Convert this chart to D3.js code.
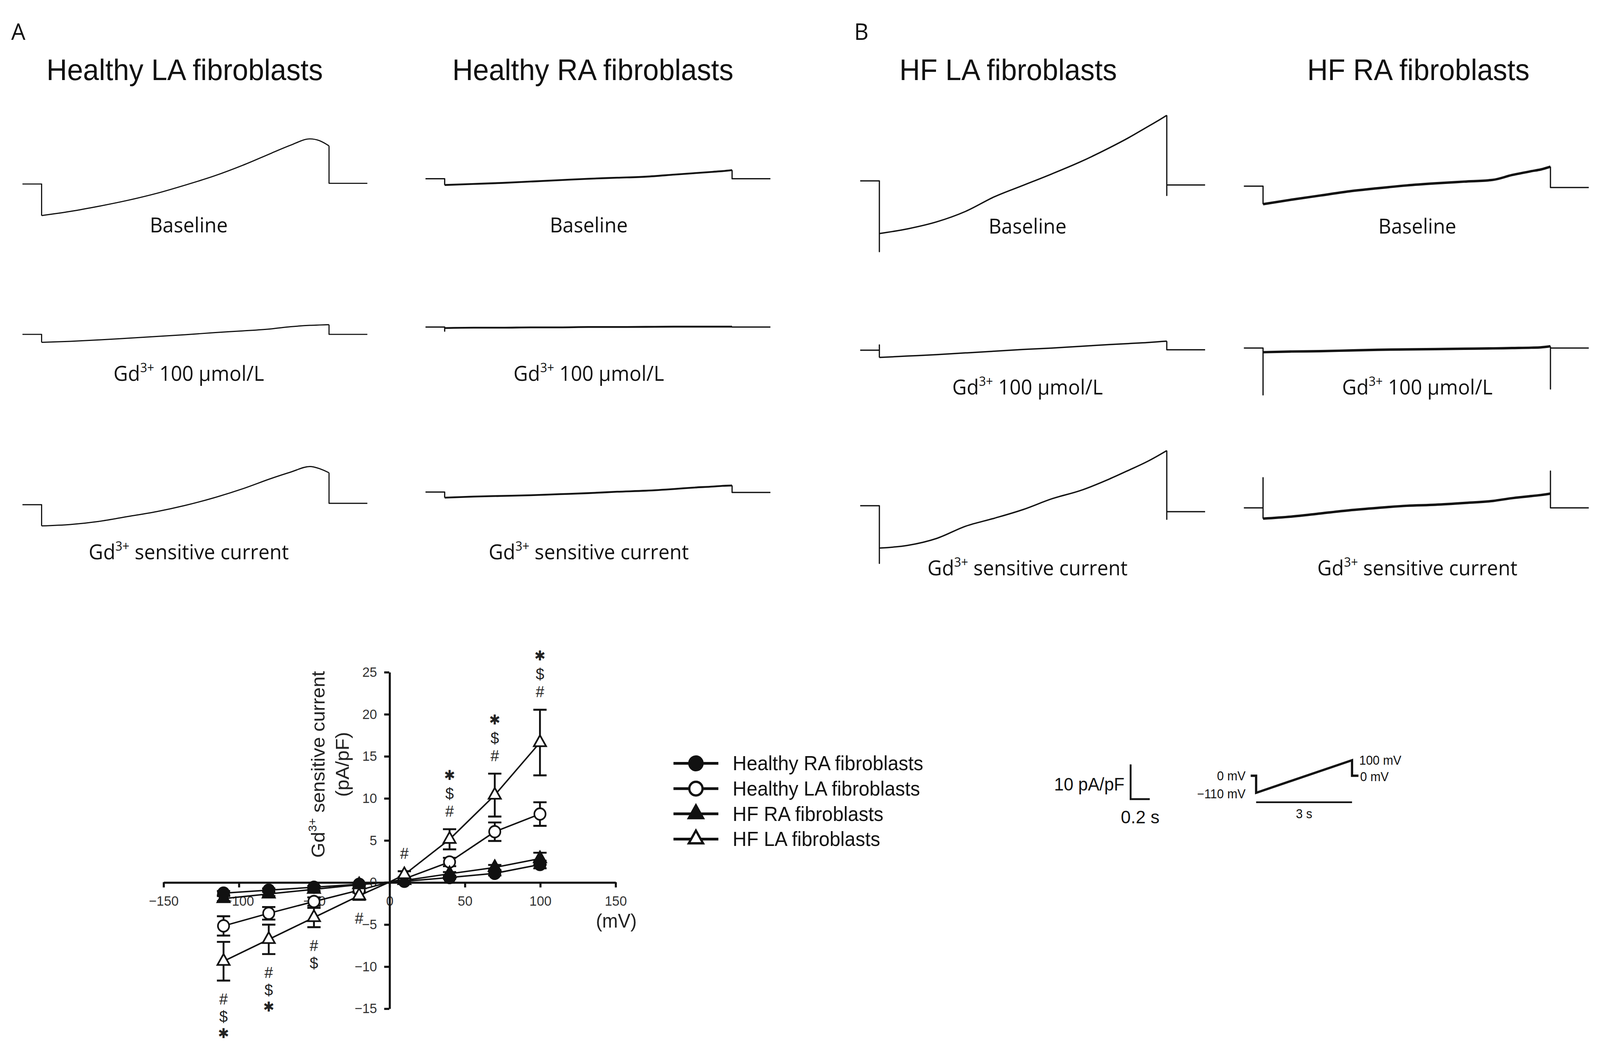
<!DOCTYPE html>
<html>
<head>
<meta charset="utf-8">
<script src="https://cdn.jsdelivr.net/npm/d3@7"></script>
<style>
  html, body { margin: 0; padding: 0; background: #fff; width: 100%; height: 100%; overflow: hidden; }
  #chart { width: 100vw; height: 100vh; }
  svg { display: block; width: 100vw; height: 100vh; }
</style>
</head>
<body>
<div id="chart"></div>
<script>
// ---------- example traces (pA/pF, relative to holding current) ----------
const rampTimes = [0, 0.3, 0.6, 0.9, 1.2, 1.5, 1.8, 2.1, 2.4, 2.6, 2.8, 2.9, 3.0];

const groupTitles = ['Healthy LA fibroblasts', 'Healthy RA fibroblasts', 'HF LA fibroblasts', 'HF RA fibroblasts'];
const conditionLabels = [['Baseline'], ['Gd', '3+', ' 100 μmol/L'], ['Gd', '3+', ' sensitive current']];

const healthyLaBaseline = { ramp: [-9.1, -7.9, -6.4, -4.7, -2.7, -0.3, 2.3, 5.4, 8.9, 11.2, 13.0, 12.5, 11.0], post: 0.2 };
const healthyLaGd = { ramp: [-2.3, -2.0, -1.6, -1.1, -0.6, -0.1, 0.5, 1.0, 1.6, 2.2, 2.6, 2.7, 2.8], post: 0 };
const healthyLaSensitive = { ramp: [-6.1, -5.7, -4.8, -3.4, -2.0, -0.2, 2.0, 4.6, 7.6, 9.4, 11.0, 10.4, 9.2], post: 0.4 };

const healthyRaBaseline = { ramp: [-1.8, -1.5, -1.2, -0.8, -0.4, 0, 0.3, 0.6, 1.2, 1.6, 2.0, 2.2, 2.5], post: 0 };
const healthyRaGd = { ramp: [-0.3, -0.2, -0.2, -0.1, -0.1, 0, 0, 0.05, 0.1, 0.1, 0.1, 0.1, 0.1], post: 0, onSpike: -1.2 };
const healthyRaSensitive = { ramp: [-1.6, -1.3, -1.1, -0.9, -0.6, -0.3, 0.1, 0.4, 0.9, 1.3, 1.6, 1.8, 1.9], post: -0.1 };

const hfLaBaseline = { ramp: [-15.2, -13.8, -11.8, -8.8, -4.6, -1.3, 2.0, 5.5, 9.5, 12.4, 15.6, 17.2, 18.9], post: -1.2, onSpike: -20.4, offSpike: -4.2 };
const hfLaGd = { ramp: [-2.1, -1.7, -1.3, -0.8, -0.3, 0.2, 0.6, 1.1, 1.6, 1.9, 2.2, 2.4, 2.6], post: 0.1, onSpike: 1.5 };
const hfLaSensitive = { ramp: [-12.2, -11.4, -9.4, -5.9, -3.6, -1.1, 2.0, 4.4, 7.7, 10.2, 12.8, 14.3, 15.9], post: -1.7, onSpike: -16.6, offSpike: -3.9 };

const hfRaBaseline = { ramp: [-5.2, -3.9, -2.7, -1.5, -0.6, 0.2, 0.8, 1.3, 1.8, 3.2, 4.3, 4.8, 5.6], post: -0.4 };
const hfRaGd = { ramp: [-1.2, -1.0, -0.9, -0.7, -0.5, -0.4, -0.3, -0.2, -0.1, 0, 0.1, 0.2, 0.5], post: 0, onSpike: -13.5, offSpike: -11.8 };
const hfRaSensitive = { ramp: [-3.1, -2.5, -1.6, -0.7, 0, 0.6, 0.9, 1.4, 2.0, 2.8, 3.4, 3.7, 4.1], post: 0, onSpike: 8.7, offSpike: 10.6 };

const traceSets = [
  [healthyLaBaseline, healthyLaGd, healthyLaSensitive],
  [healthyRaBaseline, healthyRaGd, healthyRaSensitive],
  [hfLaBaseline, hfLaGd, hfLaSensitive],
  [hfRaBaseline, hfRaGd, hfRaSensitive],
];

// ---------- I-V relationship ----------
const voltages = [-110, -80, -50, -20, 10, 40, 70, 100];
const healthyRaMean = [-1.3, -0.95, -0.6, -0.25, 0.1, 0.55, 1.05, 2.1];
const healthyRaSem = [0.25, 0.2, 0.15, 0.1, 0.1, 0.15, 0.25, 0.45];
const healthyLaMean = [-5.2, -3.7, -2.3, -0.95, 0.4, 2.4, 6.0, 8.1];
const healthyLaSem = [1.15, 0.75, 0.5, 0.3, 0.2, 0.5, 1.1, 1.4];
const hfRaMean = [-1.95, -1.4, -0.85, -0.3, 0.2, 1.0, 1.75, 2.8];
const hfRaSem = [0.3, 0.25, 0.2, 0.1, 0.1, 0.2, 0.3, 0.7];
const hfLaMean = [-9.4, -6.8, -4.2, -1.6, 0.9, 5.1, 10.35, 16.6];
const hfLaSem = [2.3, 1.75, 1.15, 0.5, 0.4, 1.2, 2.55, 3.9];
const sigMarks = ['#$✱', '#$✱', '#$', '#', '#', '#$✱', '#$✱', '#$✱'];

const xTicks = [-150, -100, -50, 0, 50, 100, 150];
const yTicks = [-15, -10, -5, 0, 5, 10, 15, 20, 25];

// scale bar & protocol
const scaleBarCurrent = 10;   // pA/pF
const scaleBarTime = 0.2;     // s
const protocolTimes = [-0.17, 0, 0, 3, 3, 3.2];
const protocolVolts = [0, 0, -110, 100, 0, 0];

// ---------- drawing ----------
const W = 1568, H = 991;
const sans = '"Liberation Sans", Arial, sans-serif';
const myriad = '"Open Sans", sans-serif';

const svg = d3.select('#chart').append('svg')
  .attr('viewBox', `0 0 ${W} ${H}`)
  .attr('preserveAspectRatio', 'none');

svg.append('rect').attr('width', W).attr('height', H).attr('fill', '#fff');

// panel letters
svg.append('text').attr('x', 11).attr('y', 38).text('A')
  .attr('font-family', myriad).attr('font-size', 22).attr('fill', '#111');
svg.append('text').attr('x', 837).attr('y', 38).text('B')
  .attr('font-family', myriad).attr('font-size', 22).attr('fill', '#111');

const panelX = [22, 417, 843, 1219];
const titleX = [181, 581, 988, 1390];
const labelX = [185, 577, 1007, 1389];
const holdY = [[175, 318, 480], [170, 311, 468], [172, 333, 481], [177, 331, 483]];
const labelY = [[221, 362, 532], [221, 362, 532], [222, 375, 547], [222, 375, 547]];
const traceWidth = [1.1, 1.7, 1.3, 2.3];
const pxPerUnit = 3.3;
const panelWidth = 338;

function addLabel(sel, parts, fontSize) {
  sel.append('tspan').text(parts[0]);
  if (parts.length > 1) {
    sel.append('tspan').attr('dy', -fontSize * 0.42).attr('font-size', fontSize * 0.62).text(parts[1]);
    sel.append('tspan').attr('dy', fontSize * 0.42).text(parts[2]);
  }
}

traceSets.forEach((set, p) => {
  const g = svg.append('g').attr('class', 'traces');
  g.append('text').attr('x', titleX[p]).attr('y', 76)
    .attr('text-anchor', 'middle').attr('font-family', sans).attr('font-size', 28)
    .attr('fill', '#111').text(groupTitles[p]);

  const xs = d3.scaleLinear().domain([-0.2, 3.4]).range([panelX[p], panelX[p] + panelWidth]);

  set.forEach((tr, r) => {
    const ys = d3.scaleLinear().domain([0, 10]).range([holdY[p][r], holdY[p][r] - 10 * pxPerUnit]);
    const lin = d3.line().x(d => xs(d[0])).y(d => ys(d[1]));
    const smooth = d3.line().x(d => xs(d[0])).y(d => ys(d[1])).curve(d3.curveMonotoneX);
    const last = tr.ramp.length - 1;

    const pre = [[-0.2, 0], [0, 0]];
    if (tr.onSpike != null) pre.push([0, tr.onSpike]);
    pre.push([0, tr.ramp[0]]);
    const post = [[3, tr.ramp[last]]];
    if (tr.offSpike != null) post.push([3, tr.offSpike]);
    post.push([3, tr.post], [3.4, tr.post]);
    const ramp = rampTimes.map((t, i) => [t, tr.ramp[i]]);

    const style = s => s.attr('fill', 'none').attr('stroke', '#111')
      .attr('stroke-width', traceWidth[p]).attr('stroke-linejoin', 'round');
    g.append('path').attr('d', lin(pre)).call(style).attr('stroke-width', Math.min(traceWidth[p], 1.2));
    g.append('path').attr('d', smooth(ramp)).call(style);
    g.append('path').attr('d', lin(post)).call(style).attr('stroke-width', Math.min(traceWidth[p], 1.2));

    const t = g.append('text').attr('x', labelX[p]).attr('y', labelY[p][r])
      .attr('text-anchor', 'middle').attr('font-family', myriad).attr('font-size', 19.5)
      .attr('fill', '#111');
    addLabel(t, conditionLabels[r], 19.5);
  });
});

// ---------- I-V plot ----------
const xIV = d3.scaleLinear().domain([-150, 150]).range([160, 603]);
const yIV = d3.scaleLinear().domain([-15, 25]).range([959, 639]);

const iv = svg.append('g').attr('class', 'iv');

const xAxisG = iv.append('g').attr('transform', `translate(0,${yIV(0)})`)
  .call(d3.axisBottom(xIV).tickValues(xTicks).tickSize(5).tickSizeOuter(0).tickPadding(8).tickFormat(d3.format('d')));
const yAxisG = iv.append('g').attr('transform', `translate(${xIV(0)},0)`)
  .call(d3.axisLeft(yIV).tickValues(yTicks).tickSize(5).tickSizeOuter(0).tickPadding(7).tickFormat(d3.format('d')));
[xAxisG, yAxisG].forEach(a => {
  a.select('.domain').attr('stroke', '#111').attr('stroke-width', 2);
  a.selectAll('.tick line').attr('stroke', '#111').attr('stroke-width', 2);
  a.selectAll('.tick text').attr('font-family', sans).attr('font-size', 13).attr('fill', '#333');
});

iv.append('text').attr('x', 604).attr('y', 882).attr('text-anchor', 'middle')
  .attr('font-family', sans).attr('font-size', 18.5).attr('fill', '#222').text('(mV)');

const yl1 = iv.append('text').attr('transform', 'translate(318,727) rotate(-90)')
  .attr('text-anchor', 'middle').attr('font-family', sans).attr('font-size', 18.5).attr('fill', '#222');
addLabel(yl1, ['Gd', '3+', ' sensitive current'], 18.5);
iv.append('text').attr('transform', 'translate(342,727) rotate(-90)')
  .attr('text-anchor', 'middle').attr('font-family', sans).attr('font-size', 18.5).attr('fill', '#222')
  .text('(pA/pF)');

const ivSeries = [
  { name: 'Healthy RA fibroblasts', mean: healthyRaMean, sem: healthyRaSem, shape: d3.symbolCircle, filled: true },
  { name: 'Healthy LA fibroblasts', mean: healthyLaMean, sem: healthyLaSem, shape: d3.symbolCircle, filled: false },
  { name: 'HF RA fibroblasts', mean: hfRaMean, sem: hfRaSem, shape: d3.symbolTriangle, filled: true },
  { name: 'HF LA fibroblasts', mean: hfLaMean, sem: hfLaSem, shape: d3.symbolTriangle, filled: false },
];

const ivLine = d3.line().x(d => xIV(d[0])).y(d => yIV(d[1]));
ivSeries.forEach(s => {
  const pts = [[0, 0]].concat(voltages.map((v, i) => [v, s.mean[i]])).sort((a, b) => a[0] - b[0]);
  iv.append('path').attr('d', ivLine(pts)).attr('fill', 'none')
    .attr('stroke', '#111').attr('stroke-width', 1.4);
});

const cap = 6.5;
ivSeries.forEach(s => {
  voltages.forEach((v, i) => {
    const x = xIV(v), y0 = yIV(s.mean[i] - s.sem[i]), y1 = yIV(s.mean[i] + s.sem[i]);
    iv.append('path')
      .attr('d', `M${x},${y0}V${y1}M${x - cap},${y0}H${x + cap}M${x - cap},${y1}H${x + cap}`)
      .attr('fill', 'none').attr('stroke', '#111').attr('stroke-width', 1.8);
  });
});

function symbolSize(shape, big) {
  if (shape === d3.symbolCircle) return Math.PI * (big ? 6.5 : 5.5) ** 2;
  const side = big ? 14 : 12;
  return side * side * Math.sqrt(3) / 4;
}

ivSeries.forEach(s => {
  iv.selectAll(null).data(voltages.map((v, i) => [v, s.mean[i]])).join('path')
    .attr('transform', d => `translate(${xIV(d[0])},${yIV(d[1])})`)
    .attr('d', d3.symbol().type(s.shape).size(symbolSize(s.shape, false)))
    .attr('fill', s.filled ? '#111' : '#fff').attr('stroke', '#111').attr('stroke-width', 1.6);
});

// significance marks, stacked away from the HF LA error bar
const markGap = 2.1, markOffset = 2.15;
voltages.forEach((v, i) => {
  const marks = Array.from(sigMarks[i]);
  const dir = v < 0 ? -1 : 1;
  const edge = hfLaMean[i] + dir * hfLaSem[i];
  marks.forEach((m, k) => {
    const val = edge + dir * (markOffset + k * markGap);
    const star = m === '✱';
    iv.append('text')
      .attr('x', xIV(v)).attr('y', yIV(val))
      .attr('dy', star ? '0.3em' : '0.36em')
      .attr('text-anchor', 'middle')
      .attr('font-family', star ? '"DejaVu Sans", sans-serif' : sans)
      .attr('font-size', star ? 13 : 15)
      .attr('fill', '#222').text(m);
  });
});

// legend
const legendY = [726, 750, 774, 798];
ivSeries.forEach((s, i) => {
  const g = svg.append('g').attr('transform', `translate(0,${legendY[i]})`);
  g.append('line').attr('x1', 660).attr('x2', 704).attr('stroke', '#111').attr('stroke-width', 2.6);
  g.append('path').attr('transform', 'translate(682,0)')
    .attr('d', d3.symbol().type(s.shape).size(symbolSize(s.shape, true)))
    .attr('fill', s.filled ? '#111' : '#fff').attr('stroke', '#111').attr('stroke-width', 2.2);
  g.append('text').attr('x', 718).attr('y', 0).attr('dy', '0.35em')
    .attr('font-family', sans).attr('font-size', 19).attr('fill', '#111').text(s.name);
});

// scale bar
const sbX = d3.scaleLinear().domain([0, 3.6]).range([1108, 1108 + panelWidth]);
const sbY = d3.scaleLinear().domain([0, 10]).range([760, 760 - 10 * pxPerUnit]);
svg.append('path')
  .attr('d', d3.line().x(d => sbX(d[0])).y(d => sbY(d[1]))([[0, scaleBarCurrent], [0, 0], [scaleBarTime, 0]]))
  .attr('fill', 'none').attr('stroke', '#111').attr('stroke-width', 1.8);
svg.append('text').attr('x', 1102).attr('y', 746).attr('dy', '0.35em').attr('text-anchor', 'end')
  .attr('font-family', sans).attr('font-size', 17).attr('fill', '#111').text(`${scaleBarCurrent} pA/pF`);
svg.append('text').attr('x', sbX(scaleBarTime / 2)).attr('y', 777).attr('dy', '0.35em').attr('text-anchor', 'middle')
  .attr('font-family', sans).attr('font-size', 17.5).attr('fill', '#111').text(`${scaleBarTime} s`);

// voltage protocol
const prX = d3.scaleLinear().domain([0, 3]).range([1231, 1325]);
const prY = d3.scaleLinear().domain([-110, 100]).range([754, 723]);
svg.append('path')
  .attr('d', d3.line().x(d => prX(d[0])).y(d => prY(d[1]))(protocolTimes.map((t, i) => [t, protocolVolts[i]])))
  .attr('fill', 'none').attr('stroke', '#111').attr('stroke-width', 2.2).attr('stroke-linejoin', 'miter');
svg.append('line').attr('x1', prX(0)).attr('x2', prX(3)).attr('y1', prY(-110) + 9).attr('y2', prY(-110) + 9)
  .attr('stroke', '#111').attr('stroke-width', 1.6);
const prLabel = (x, y, anchor, txt) => svg.append('text').attr('x', x).attr('y', y).attr('dy', '0.35em')
  .attr('text-anchor', anchor).attr('font-family', sans).attr('font-size', 12).attr('fill', '#111').text(txt);
prLabel(prX(-0.17) - 5, prY(0), 'end', '0 mV');
prLabel(prX(-0.17) - 5, prY(-110) + 1, 'end', '−110 mV');
prLabel(prX(3) + 7, prY(100), 'start', '100 mV');
prLabel(prX(3) + 8, prY(0) + 1, 'start', '0 mV');
prLabel(prX(1.5), 774, 'middle', '3 s');
</script>
</body>
</html>
